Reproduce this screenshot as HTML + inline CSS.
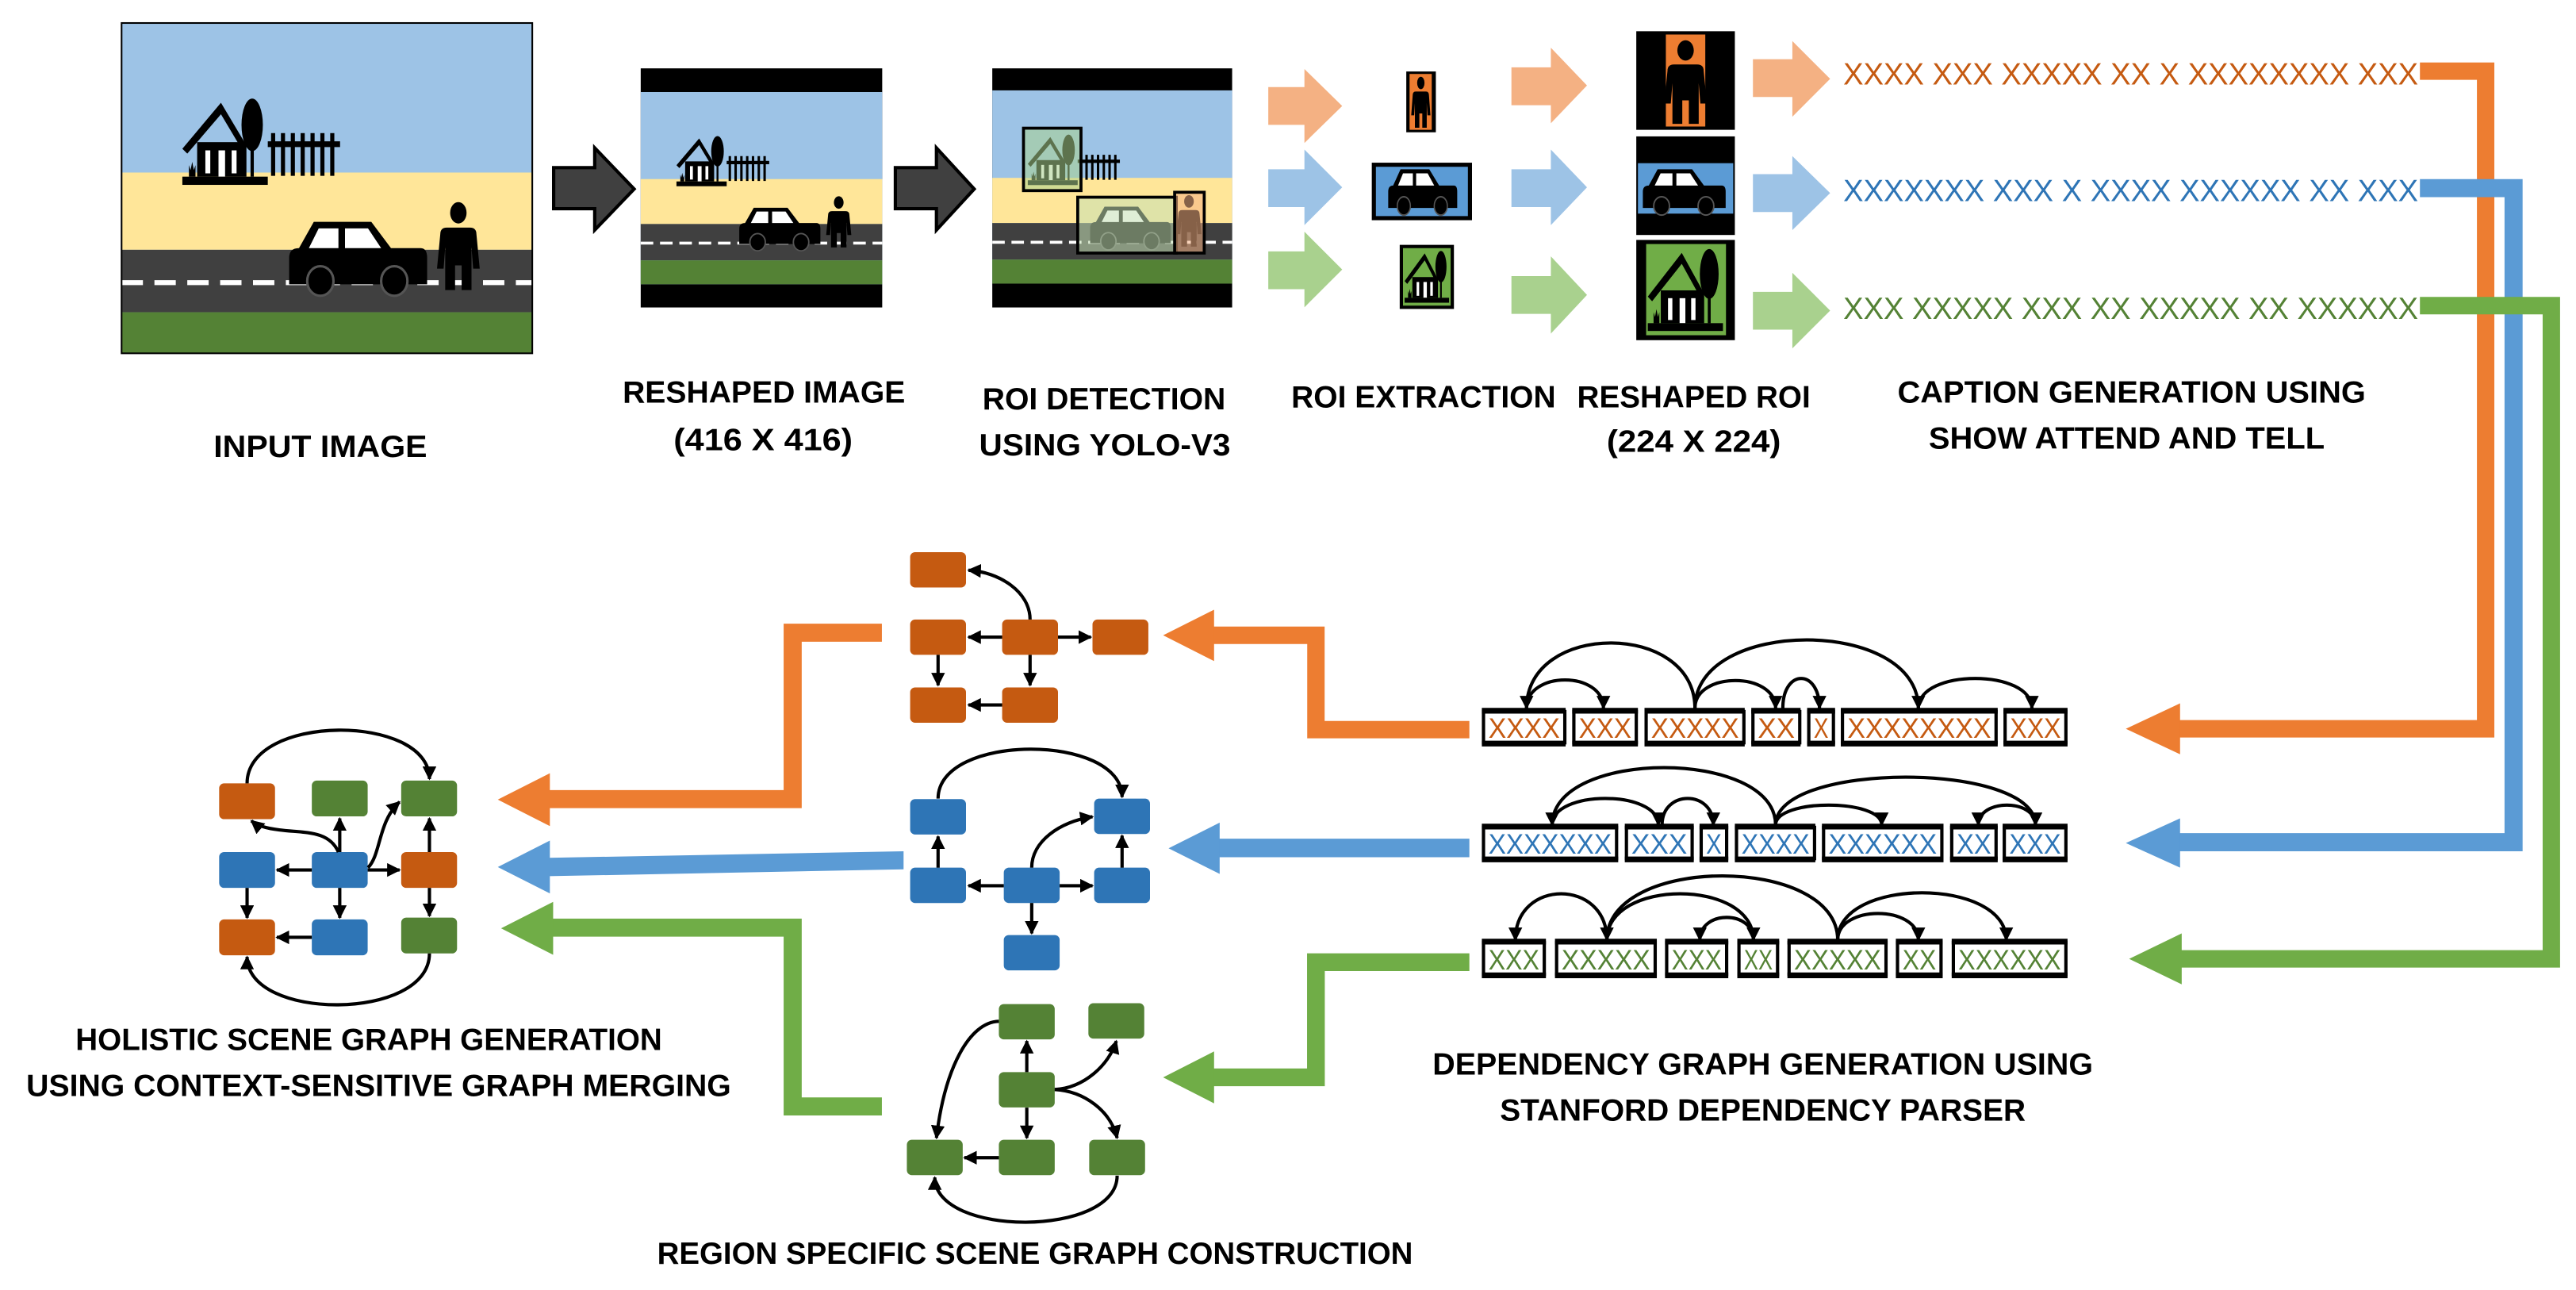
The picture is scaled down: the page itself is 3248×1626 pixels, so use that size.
<!DOCTYPE html>
<html><head><meta charset="utf-8"><style>
html,body{margin:0;padding:0;background:#fff;}
svg{display:block;}
.lb{font-family:"Liberation Sans",sans-serif;font-weight:bold;font-size:19px;fill:#000;}
.cx{font-family:"Liberation Sans",sans-serif;font-size:19px;}
.wx{font-family:"Liberation Sans",sans-serif;font-size:17px;}
</style></head><body>
<svg width="3248" height="1626" viewBox="0 0 1568 785" preserveAspectRatio="none" xmlns="http://www.w3.org/2000/svg">
<defs>
<marker id="ah" viewBox="0 0 10 10" refX="9" refY="5" markerWidth="4.2" markerHeight="4.2" orient="auto" markerUnits="strokeWidth"><path d="M0,0 L10,5 L0,10 Z" fill="#000"/></marker>
<g id="car"><path d="M0,38 V22 Q0,16 6,16 L15,0 H50 L62,16 H80 Q84,16 84,22 V38 Z" fill="#000"/><polygon points="18,4 30,4 30,16 12,16" fill="#fff"/><polygon points="34,4 48,4 56,16 34,16" fill="#fff"/><ellipse cx="19" cy="36" rx="8" ry="9" fill="#000" stroke="#555" stroke-width="1.5"/><ellipse cx="64" cy="36" rx="8" ry="9" fill="#000" stroke="#555" stroke-width="1.5"/></g>
<g id="person"><ellipse cx="13" cy="6" rx="5" ry="6.5" fill="#000"/><path d="M6,15 H20 Q24,15 24,19 L26,40 H22 L21,27 V53 H15 V38 H11 V53 H5 V27 L4,40 H0 L2,19 Q2,15 6,15Z" fill="#000"/></g>
<g id="house"><path d="M0,30 L23.5,2 L39,28 L36,30 L23.5,9 L3,33 Z" fill="#000"/><rect x="9" y="26" width="30" height="21" fill="#000"/><rect x="14" y="31" width="3" height="14" fill="#fff"/><rect x="22" y="31" width="4" height="16" fill="#fff"/><rect x="30" y="31" width="3" height="14" fill="#fff"/><ellipse cx="42.5" cy="15.5" rx="6.5" ry="16" fill="#000"/><rect x="41.5" y="28" width="2" height="19" fill="#000"/><rect x="0" y="47" width="52" height="5" fill="#000"/><path d="M4,47 V40 L5,43 L6,38 L7,43 L8,40 V47Z" fill="#000"/></g>
<g id="scene">
<rect x="74" y="14" width="250" height="201" fill="#9DC3E6"/>
<rect x="74" y="105" width="250" height="47" fill="#FFE699"/>
<rect x="74" y="152" width="250" height="38" fill="#404040"/>
<rect x="74" y="190" width="250" height="25" fill="#548235"/>
<path d="M74,172 H324" stroke="#fff" stroke-width="3" stroke-dasharray="13,7"/>
<use href="#house" transform="translate(111,60.5)"/>
<g fill="#000"><rect x="163" y="86" width="44" height="3.5"/><rect x="165" y="81" width="2.5" height="26"/><rect x="171" y="81" width="2.5" height="26"/><rect x="177" y="81" width="2.5" height="26"/><rect x="183" y="81" width="2.5" height="26"/><rect x="189" y="81" width="2.5" height="26"/><rect x="195" y="81" width="2.5" height="26"/><rect x="201" y="81" width="2.5" height="26"/></g>
<use href="#car" transform="translate(176,135)"/>
<use href="#person" transform="translate(266,123.5)"/>
</g>
</defs>

<use href="#scene"/>
<rect x="74" y="14" width="250" height="201" fill="none" stroke="#000" stroke-width="1"/>

<polygon points="337,102 362,102 362,90 386,115 362,140 362,127 337,127" fill="#404040" stroke="#000" stroke-width="2"/>
<polygon points="545,102 570,102 570,90 593,115 570,140 570,127 545,127" fill="#404040" stroke="#000" stroke-width="2"/>

<rect x="390" y="41.6" width="147" height="145.5" fill="#000"/>
<g transform="translate(390,56) scale(0.588,0.582) translate(-74,-14)"><use href="#scene"/></g>

<rect x="604" y="41.6" width="146" height="145.5" fill="#000"/>
<g transform="translate(604,55) scale(0.584,0.585) translate(-74,-14)"><use href="#scene"/></g>
<rect x="623" y="78" width="35" height="38" fill="#A9D18E" fill-opacity="0.55" stroke="#000" stroke-width="1.8"/>
<rect x="656" y="120" width="60" height="34" fill="#C5E0B4" fill-opacity="0.55" stroke="#000" stroke-width="1.8"/>
<rect x="715" y="117" width="18" height="37" fill="#F4B183" fill-opacity="0.55" stroke="#000" stroke-width="1.8"/>

<g>
<polygon points="772,53 794,53 794,42 817,64.5 794,87 794,76 772,76" fill="#F4B183"/>
<polygon points="772,103 794,103 794,91 817,114 794,137 794,126 772,126" fill="#9DC3E6"/>
<polygon points="772,153 794,153 794,141 817,164 794,187 794,176 772,176" fill="#A9D18E"/>
<polygon points="920,41 944,41 944,29 966,52 944,75 944,64 920,64" fill="#F4B183"/>
<polygon points="920,103 944,103 944,91 966,114 944,137 944,126 920,126" fill="#9DC3E6"/>
<polygon points="920,168 944,168 944,156 966,179.5 944,203 944,191 920,191" fill="#A9D18E"/>
<polygon points="1067,36 1091,36 1091,25 1114,48 1091,71 1091,59 1067,59" fill="#F4B183"/>
<polygon points="1067,106 1091,106 1091,95 1114,117.5 1091,140 1091,129 1067,129" fill="#9DC3E6"/>
<polygon points="1067,177.6 1091,177.6 1091,166 1114,189 1091,212 1091,200.6 1067,200.6" fill="#A9D18E"/>
</g>

<rect x="856" y="43.5" width="18" height="37" fill="#000"/>
<rect x="858" y="45" width="13.5" height="34" fill="#ED7D31"/>
<g transform="translate(859,47) scale(0.45,0.58)"><use href="#person"/></g>
<rect x="835" y="99" width="61" height="35" fill="#000"/>
<rect x="837.5" y="101.5" width="56" height="30" fill="#5B9BD5"/>
<g transform="translate(845,103) scale(0.5,0.62)"><use href="#car"/></g>
<rect x="852" y="149" width="33" height="39" fill="#000"/>
<rect x="854" y="151" width="29" height="35" fill="#70AD47"/>
<g transform="translate(855,153) scale(0.52,0.6)"><use href="#house"/></g>

<rect x="996" y="19" width="60" height="60" fill="#000"/>
<rect x="1014" y="21" width="24" height="56" fill="#ED7D31"/>
<g transform="translate(1013,25) scale(1,0.95)"><use href="#person"/></g>
<rect x="996" y="83" width="60" height="60" fill="#000"/>
<rect x="997" y="99.3" width="58" height="30.7" fill="#5B9BD5"/>
<g transform="translate(1000,103) scale(0.6,0.62)"><use href="#car"/></g>
<rect x="996" y="146" width="60" height="61" fill="#000"/>
<rect x="1002" y="148.5" width="48.6" height="55.5" fill="#70AD47"/>
<g transform="translate(1003,152) scale(0.88,0.95)"><use href="#house"/></g>

<text class="cx" x="1122" y="51.5" fill="#C55A11" textLength="350" lengthAdjust="spacingAndGlyphs">XXXX XXX XXXXX XX X XXXXXXXX XXX</text>
<text class="cx" x="1122" y="122.5" fill="#2E75B6" textLength="350" lengthAdjust="spacingAndGlyphs">XXXXXXX XXX X XXXX XXXXXX XX XXX</text>
<text class="cx" x="1122" y="194" fill="#548235" textLength="350" lengthAdjust="spacingAndGlyphs">XXX XXXXX XXX XX XXXXX XX XXXXXX</text>

<polyline points="1473,43.3 1513,43.3 1513,443.5 1326,443.5" fill="none" stroke="#ED7D31" stroke-width="10.6" stroke-linejoin="miter"/>
<polygon points="1294,443.5 1327,428 1327,459" fill="#ED7D31"/>
<polyline points="1473,114.5 1530,114.5 1530,512.5 1326,512.5" fill="none" stroke="#5B9BD5" stroke-width="11" stroke-linejoin="miter"/>
<polygon points="1294,513 1327,498 1327,528" fill="#5B9BD5"/>
<polyline points="1473,186 1553,186 1553,583.5 1327,583.5" fill="none" stroke="#70AD47" stroke-width="10.6" stroke-linejoin="miter"/>
<polygon points="1296,583.5 1328,568 1328,599" fill="#70AD47"/>

<g fill="#fff" stroke="#000" stroke-width="2">
<rect x="903" y="433" width="49.5" height="19"/><rect x="958" y="433" width="38" height="19"/><rect x="1002" y="433" width="59.5" height="19"/><rect x="1067" y="433" width="28.5" height="19"/><rect x="1101" y="433" width="15" height="19"/><rect x="1121.5" y="433" width="93.5" height="19"/><rect x="1220.5" y="433" width="37" height="19"/>
<rect x="903" y="503.5" width="81" height="19"/><rect x="990" y="503.5" width="40" height="19"/><rect x="1035.5" y="503.5" width="15.5" height="19"/><rect x="1057" y="503.5" width="47.5" height="19"/><rect x="1110" y="503.5" width="72" height="19"/><rect x="1188" y="503.5" width="27" height="19"/><rect x="1220" y="503.5" width="37.5" height="19"/>
<rect x="903" y="573.5" width="37" height="19.5"/><rect x="947.5" y="573.5" width="60" height="19.5"/><rect x="1014.5" y="573.5" width="36.5" height="19.5"/><rect x="1058.5" y="573.5" width="23.5" height="19.5"/><rect x="1089" y="573.5" width="59" height="19.5"/><rect x="1155" y="573.5" width="26.5" height="19.5"/><rect x="1189" y="573.5" width="68.5" height="19.5"/>
</g>
<g stroke="#000" stroke-width="3.5">
<path d="M902,432.5 H953 M957,432.5 H997 M1001,432.5 H1062 M1066,432.5 H1096 M1100,432.5 H1117 M1120.5,432.5 H1216 M1219.5,432.5 H1258.5"/>
<path d="M902,452.5 H953 M957,452.5 H997 M1001,452.5 H1062 M1066,452.5 H1096 M1100,452.5 H1117 M1120.5,452.5 H1216 M1219.5,452.5 H1258.5"/>
<path d="M902,503 H985 M989,503 H1031 M1034.5,503 H1052 M1056,503 H1105 M1109,503 H1183 M1187,503 H1216 M1219,503 H1258.5"/>
<path d="M902,523 H985 M989,523 H1031 M1034.5,523 H1052 M1056,523 H1105 M1109,523 H1183 M1187,523 H1216 M1219,523 H1258.5"/>
<path d="M902,573 H941 M946.5,573 H1008.5 M1013.5,573 H1052 M1057.5,573 H1083 M1088,573 H1149 M1154,573 H1182.5 M1188,573 H1258.5"/>
<path d="M902,593.5 H941 M946.5,593.5 H1008.5 M1013.5,593.5 H1052 M1057.5,593.5 H1083 M1088,593.5 H1149 M1154,593.5 H1182.5 M1188,593.5 H1258.5"/>
</g>
<g class="wx" fill="#C55A11">
<text x="906" y="449" textLength="43.5" lengthAdjust="spacingAndGlyphs">XXXX</text><text x="961" y="449" textLength="32" lengthAdjust="spacingAndGlyphs">XXX</text><text x="1005" y="449" textLength="53.5" lengthAdjust="spacingAndGlyphs">XXXXX</text><text x="1070" y="449" textLength="22.5" lengthAdjust="spacingAndGlyphs">XX</text><text x="1104" y="449" textLength="9" lengthAdjust="spacingAndGlyphs">X</text><text x="1124.5" y="449" textLength="87.5" lengthAdjust="spacingAndGlyphs">XXXXXXXX</text><text x="1223.5" y="449" textLength="31" lengthAdjust="spacingAndGlyphs">XXX</text>
</g>
<g class="wx" fill="#2E75B6">
<text x="906" y="519.5" textLength="75" lengthAdjust="spacingAndGlyphs">XXXXXXX</text><text x="993" y="519.5" textLength="34" lengthAdjust="spacingAndGlyphs">XXX</text><text x="1038.5" y="519.5" textLength="9.5" lengthAdjust="spacingAndGlyphs">X</text><text x="1060" y="519.5" textLength="41.5" lengthAdjust="spacingAndGlyphs">XXXX</text><text x="1113" y="519.5" textLength="66" lengthAdjust="spacingAndGlyphs">XXXXXX</text><text x="1191" y="519.5" textLength="21" lengthAdjust="spacingAndGlyphs">XX</text><text x="1223" y="519.5" textLength="31.5" lengthAdjust="spacingAndGlyphs">XXX</text>
</g>
<g class="wx" fill="#548235">
<text x="906" y="590" textLength="31" lengthAdjust="spacingAndGlyphs">XXX</text><text x="950.5" y="590" textLength="54" lengthAdjust="spacingAndGlyphs">XXXXX</text><text x="1017.5" y="590" textLength="30.5" lengthAdjust="spacingAndGlyphs">XXX</text><text x="1061.5" y="590" textLength="17.5" lengthAdjust="spacingAndGlyphs">XX</text><text x="1092" y="590" textLength="53" lengthAdjust="spacingAndGlyphs">XXXXX</text><text x="1158" y="590" textLength="20.5" lengthAdjust="spacingAndGlyphs">XX</text><text x="1192" y="590" textLength="62.5" lengthAdjust="spacingAndGlyphs">XXXXXX</text>
</g>

<g fill="none" stroke="#000" stroke-width="2" marker-end="url(#ah)">
<path d="M1031.7,431 C1031.7,378 929.2,378 929.2,431"/>
<path d="M929.2,431 C929.2,408 976,408 976,431"/>
<path d="M1031.7,431 C1031.7,408.5 1080.8,408.5 1080.8,431"/>
<path d="M1085.2,431 C1085.2,406.8 1107.5,406.8 1107.5,431"/>
<path d="M1031.7,431 C1031.7,375.5 1167.7,375.5 1167.7,431"/>
<path d="M1167.7,431 C1167.7,406.8 1236.8,406.8 1236.8,431"/>
<path d="M1080.8,502 C1080.8,455.5 944.8,455.5 944.8,502"/>
<path d="M944.8,502 C944.8,480.5 1009.4,480.5 1009.4,502"/>
<path d="M1011.7,502 C1011.7,480.5 1042.9,480.5 1042.9,502"/>
<path d="M1080.8,502 C1080.8,485.9 1145.4,485.9 1145.4,502"/>
<path d="M1080.8,502 C1080.8,463.2 1239,463.2 1239,502"/>
<path d="M1239,502 C1239,485.9 1204.2,485.9 1204.2,502"/>
<path d="M978.1,572 C978.1,534.5 922.4,534.5 922.4,572"/>
<path d="M1118.6,572 C1118.6,520 978.1,520 978.1,572"/>
<path d="M978.1,572 C978.1,534.5 1067.3,534.5 1067.3,572"/>
<path d="M1067.3,572 C1067.3,553.7 1034.7,553.7 1034.7,572"/>
<path d="M1118.6,572 C1118.6,550.5 1167.7,550.5 1167.7,572"/>
<path d="M1118.6,572 C1118.6,533.7 1221.2,533.7 1221.2,572"/>
</g>

<polyline points="894.4,444 801,444 801,386.6 738,386.6" fill="none" stroke="#ED7D31" stroke-width="10.6" stroke-linejoin="miter"/>
<polygon points="708,386.6 739,371 739,402.3" fill="#ED7D31"/>
<polyline points="894.4,516 741,516" fill="none" stroke="#5B9BD5" stroke-width="11.3"/>
<polygon points="711.3,516.2 742.4,500.6 742.4,531.8" fill="#5B9BD5"/>
<polyline points="894.4,585.5 801,585.5 801,655.6 738,655.6" fill="none" stroke="#70AD47" stroke-width="10.8" stroke-linejoin="miter"/>
<polygon points="708,655.6 739,639.8 739,671.4" fill="#70AD47"/>

<polyline points="536.8,385 482.5,385 482.5,486.3 334,486.3" fill="none" stroke="#ED7D31" stroke-width="11" stroke-linejoin="miter"/>
<polygon points="303,486.6 334.7,470.5 334.7,502.7" fill="#ED7D31"/>
<polygon points="550,518 550,529 334,533.2 334,522" fill="#5B9BD5"/>
<polygon points="303,527.6 334.7,511.5 334.7,543.7" fill="#5B9BD5"/>
<polyline points="336,564.5 482.5,564.5 482.5,673.3 536.8,673.3" fill="none" stroke="#70AD47" stroke-width="11" stroke-linejoin="miter"/>
<polygon points="305,564.9 336.7,548.8 336.7,581" fill="#70AD47"/>

<g fill="#C55A11"><rect x="554" y="336" width="34" height="21.5" rx="3"/><rect x="554" y="377" width="34" height="21.5" rx="3"/><rect x="610" y="377" width="34" height="21.5" rx="3"/><rect x="665" y="377" width="34" height="21.5" rx="3"/><rect x="554" y="418.3" width="34" height="21.5" rx="3"/><rect x="610" y="418.3" width="34" height="21.5" rx="3"/></g>
<g fill="#2E75B6"><rect x="554" y="486.3" width="34" height="21.5" rx="3"/><rect x="666" y="486" width="34" height="21.5" rx="3"/><rect x="554" y="528" width="34" height="21.5" rx="3"/><rect x="611" y="528" width="34" height="21.5" rx="3"/><rect x="666" y="528" width="34" height="21.5" rx="3"/><rect x="611" y="569" width="34" height="21.5" rx="3"/></g>
<g fill="#548235"><rect x="608" y="611" width="34" height="21.5" rx="3"/><rect x="662.5" y="610.5" width="34" height="21.5" rx="3"/><rect x="608" y="652.4" width="34" height="21.5" rx="3"/><rect x="552" y="693.6" width="34" height="21.5" rx="3"/><rect x="608" y="693.6" width="34" height="21.5" rx="3"/><rect x="663" y="693.6" width="34" height="21.5" rx="3"/></g>
<g>
<rect x="133.4" y="476.7" width="34" height="21.8" rx="3" fill="#C55A11"/><rect x="189.8" y="475" width="34" height="21.8" rx="3" fill="#548235"/><rect x="244.2" y="475" width="34" height="21.8" rx="3" fill="#548235"/>
<rect x="133.4" y="518.5" width="34" height="21.8" rx="3" fill="#2E75B6"/><rect x="189.8" y="518.5" width="34" height="21.8" rx="3" fill="#2E75B6"/><rect x="244.2" y="518.5" width="34" height="21.8" rx="3" fill="#C55A11"/>
<rect x="133.4" y="559.5" width="34" height="21.8" rx="3" fill="#C55A11"/><rect x="189.8" y="559.5" width="34" height="21.8" rx="3" fill="#2E75B6"/><rect x="244.2" y="558.4" width="34" height="21.8" rx="3" fill="#548235"/>
</g>

<g fill="none" stroke="#000" stroke-width="2" marker-end="url(#ah)">
<path d="M627,377 C627,360 608,348 589.5,347"/>
<path d="M610,387.7 L589.5,387.7"/>
<path d="M644,387.7 L664,387.7"/>
<path d="M571,398.5 L571,417"/>
<path d="M627,398.5 L627,417"/>
<path d="M610,429 L589.5,429"/>
<path d="M571,486 C571,446 683,446 683,485"/>
<path d="M571,528 L571,509"/>
<path d="M611,539 L589.5,539"/>
<path d="M645,539 L665,539"/>
<path d="M628,528 C628,512 645,500 665,497"/>
<path d="M683,528 L683,508.5"/>
<path d="M628,549.5 L628,568"/>
<path d="M625,652.4 L625,633.5"/>
<path d="M625,674 L625,692.5"/>
<path d="M608,704.5 L587,704.5"/>
<path d="M642,663 C660,662 675,648 679.5,633.5"/>
<path d="M642,663 C660,664 676,676 680,692.5"/>
<path d="M608,621.5 C590,622 575,650 570,692.5"/>
<path d="M680,715.4 C680,753 569,753 569,716.5"/>
<path d="M150.4,476.7 C150.4,434 261.4,434 261.4,474"/>
<path d="M189.8,529.4 L168.5,529.4"/>
<path d="M223.8,529.4 L243.2,529.4"/>
<path d="M206.8,518.5 L206.8,498"/>
<path d="M206,518.5 C200,505 185,507 170,505 C161,504 156,502 153,499.5"/>
<path d="M224,528 C232,520 230,500 243.2,488"/>
<path d="M261.4,518.5 L261.4,498"/>
<path d="M261.4,540.3 L261.4,557.4"/>
<path d="M150.4,540.3 L150.4,558.5"/>
<path d="M206.8,540.3 L206.8,558.5"/>
<path d="M189.8,570.4 L168.5,570.4"/>
<path d="M261.4,580.2 C261.4,621.5 150.4,621.5 150.4,582.3"/>
</g>

<g class="lb" text-anchor="start">
<text x="130" y="278" textLength="130" lengthAdjust="spacingAndGlyphs">INPUT IMAGE</text>
<text x="379" y="245" textLength="172" lengthAdjust="spacingAndGlyphs">RESHAPED IMAGE</text>
<text x="410" y="274" textLength="109" lengthAdjust="spacingAndGlyphs">(416 X 416)</text>
<text x="598" y="249" textLength="148" lengthAdjust="spacingAndGlyphs">ROI DETECTION</text>
<text x="596" y="277" textLength="153" lengthAdjust="spacingAndGlyphs">USING YOLO-V3</text>
<text x="786" y="248" textLength="161" lengthAdjust="spacingAndGlyphs">ROI EXTRACTION</text>
<text x="960" y="248" textLength="142" lengthAdjust="spacingAndGlyphs">RESHAPED ROI</text>
<text x="978" y="275" textLength="106" lengthAdjust="spacingAndGlyphs">(224 X 224)</text>
<text x="1155" y="245" textLength="285" lengthAdjust="spacingAndGlyphs">CAPTION GENERATION USING</text>
<text x="1174" y="273" textLength="241" lengthAdjust="spacingAndGlyphs">SHOW ATTEND AND TELL</text>
<text x="46" y="639" textLength="357" lengthAdjust="spacingAndGlyphs">HOLISTIC SCENE GRAPH GENERATION</text>
<text x="16" y="667" textLength="429" lengthAdjust="spacingAndGlyphs">USING CONTEXT-SENSITIVE GRAPH MERGING</text>
<text x="872" y="654" textLength="402" lengthAdjust="spacingAndGlyphs">DEPENDENCY GRAPH GENERATION USING</text>
<text x="913" y="682" textLength="320" lengthAdjust="spacingAndGlyphs">STANFORD DEPENDENCY PARSER</text>
<text x="400" y="769" textLength="460" lengthAdjust="spacingAndGlyphs">REGION SPECIFIC SCENE GRAPH CONSTRUCTION</text>
</g>
</svg>
</body></html>
